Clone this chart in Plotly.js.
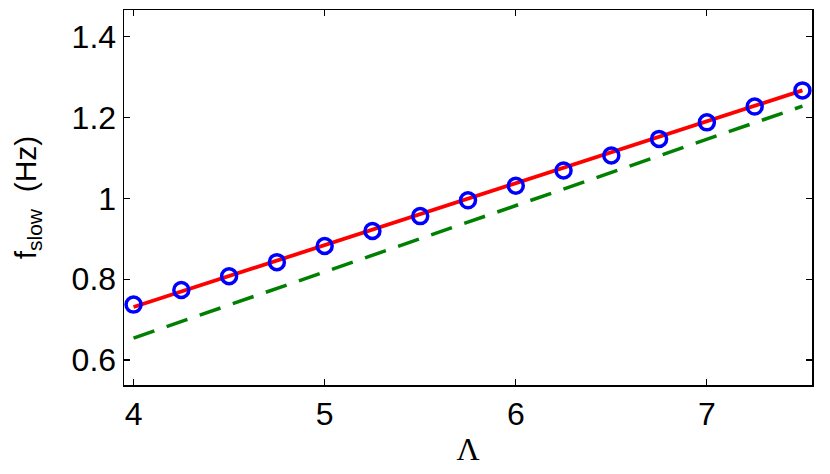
<!DOCTYPE html>
<html>
<head>
<meta charset="utf-8">
<script src="https://cdn.plot.ly/plotly-3.0.1.min.js"></script>
<style>html,body{margin:0;padding:0;background:#fff;}#chart{width:830px;height:474px;}</style>
</head>
<body>
<div id="chart"></div>
<script>
// Measured points (blue circles)
const lambdaPts = [4, 4.25, 4.5, 4.75, 5, 5.25, 5.5, 5.75, 6, 6.25, 6.5, 6.75, 7, 7.25, 7.5];
const fSlowPts = [0.737, 0.773, 0.807, 0.842, 0.882, 0.919, 0.956, 0.995, 1.031, 1.069, 1.106, 1.147, 1.188, 1.227, 1.267];
// Red solid fit line endpoints
const fitX = [4, 7.5];
const fitY = [0.731, 1.267];
// Green dashed line endpoints
const theoryX = [4, 7.5];
const theoryY = [0.654, 1.228];
// Axis ticks
const xTicks = [4, 5, 6, 7];
const yTicks = [0.6, 0.8, 1, 1.2, 1.4];
const yTickText = ['0.6', '0.8', '1', '1.2', '1.4'];

const traces = [
  {x: theoryX, y: theoryY, mode: 'lines', line: {color: '#008000', width: 3.5, dash: '22px,13px'}, hoverinfo: 'skip'},
  {x: fitX, y: fitY, mode: 'lines', line: {color: '#ff0000', width: 3.8}, hoverinfo: 'skip'},
  {x: lambdaPts, y: fSlowPts, mode: 'markers', marker: {symbol: 'circle-open', size: 15, color: '#0000ff', line: {width: 3.5, color: '#0000ff'}}}
];

const layout = {
  width: 830, height: 474,
  margin: {l: 124, r: 18, t: 10, b: 89},
  paper_bgcolor: '#fff', plot_bgcolor: '#fff',
  showlegend: false,
  font: {family: 'Liberation Sans, Arial, sans-serif', color: '#000'},
  xaxis: {
    range: [3.95, 7.55], tickvals: xTicks, ticktext: xTicks.map(String),
    ticks: 'inside', ticklen: 6, tickwidth: 1.2, tickcolor: '#000',
    showline: true, linecolor: '#000', linewidth: 1.5, mirror: 'allticks',
    showgrid: false, zeroline: false,
    tickfont: {size: 32, family: 'Liberation Sans, Arial, sans-serif'},
    title: {text: 'Λ', font: {size: 32, family: 'Liberation Serif, Times New Roman, serif'}, standoff: 6}
  },
  yaxis: {
    range: [0.538, 1.466], tickvals: yTicks, ticktext: yTickText,
    ticks: 'inside', ticklen: 6, tickwidth: 1.2, tickcolor: '#000',
    showline: true, linecolor: '#000', linewidth: 1.5, mirror: 'allticks',
    showgrid: false, zeroline: false,
    tickfont: {size: 32, family: 'Liberation Sans, Arial, sans-serif'},
    title: {text: 'f<sub>slow</sub>&nbsp; (Hz)', font: {size: 30, family: 'Liberation Sans, Arial, sans-serif'}, standoff: 26}
  }
};

Plotly.newPlot('chart', traces, layout, {displayModeBar: false, staticPlot: true});
</script>
</body>
</html>
